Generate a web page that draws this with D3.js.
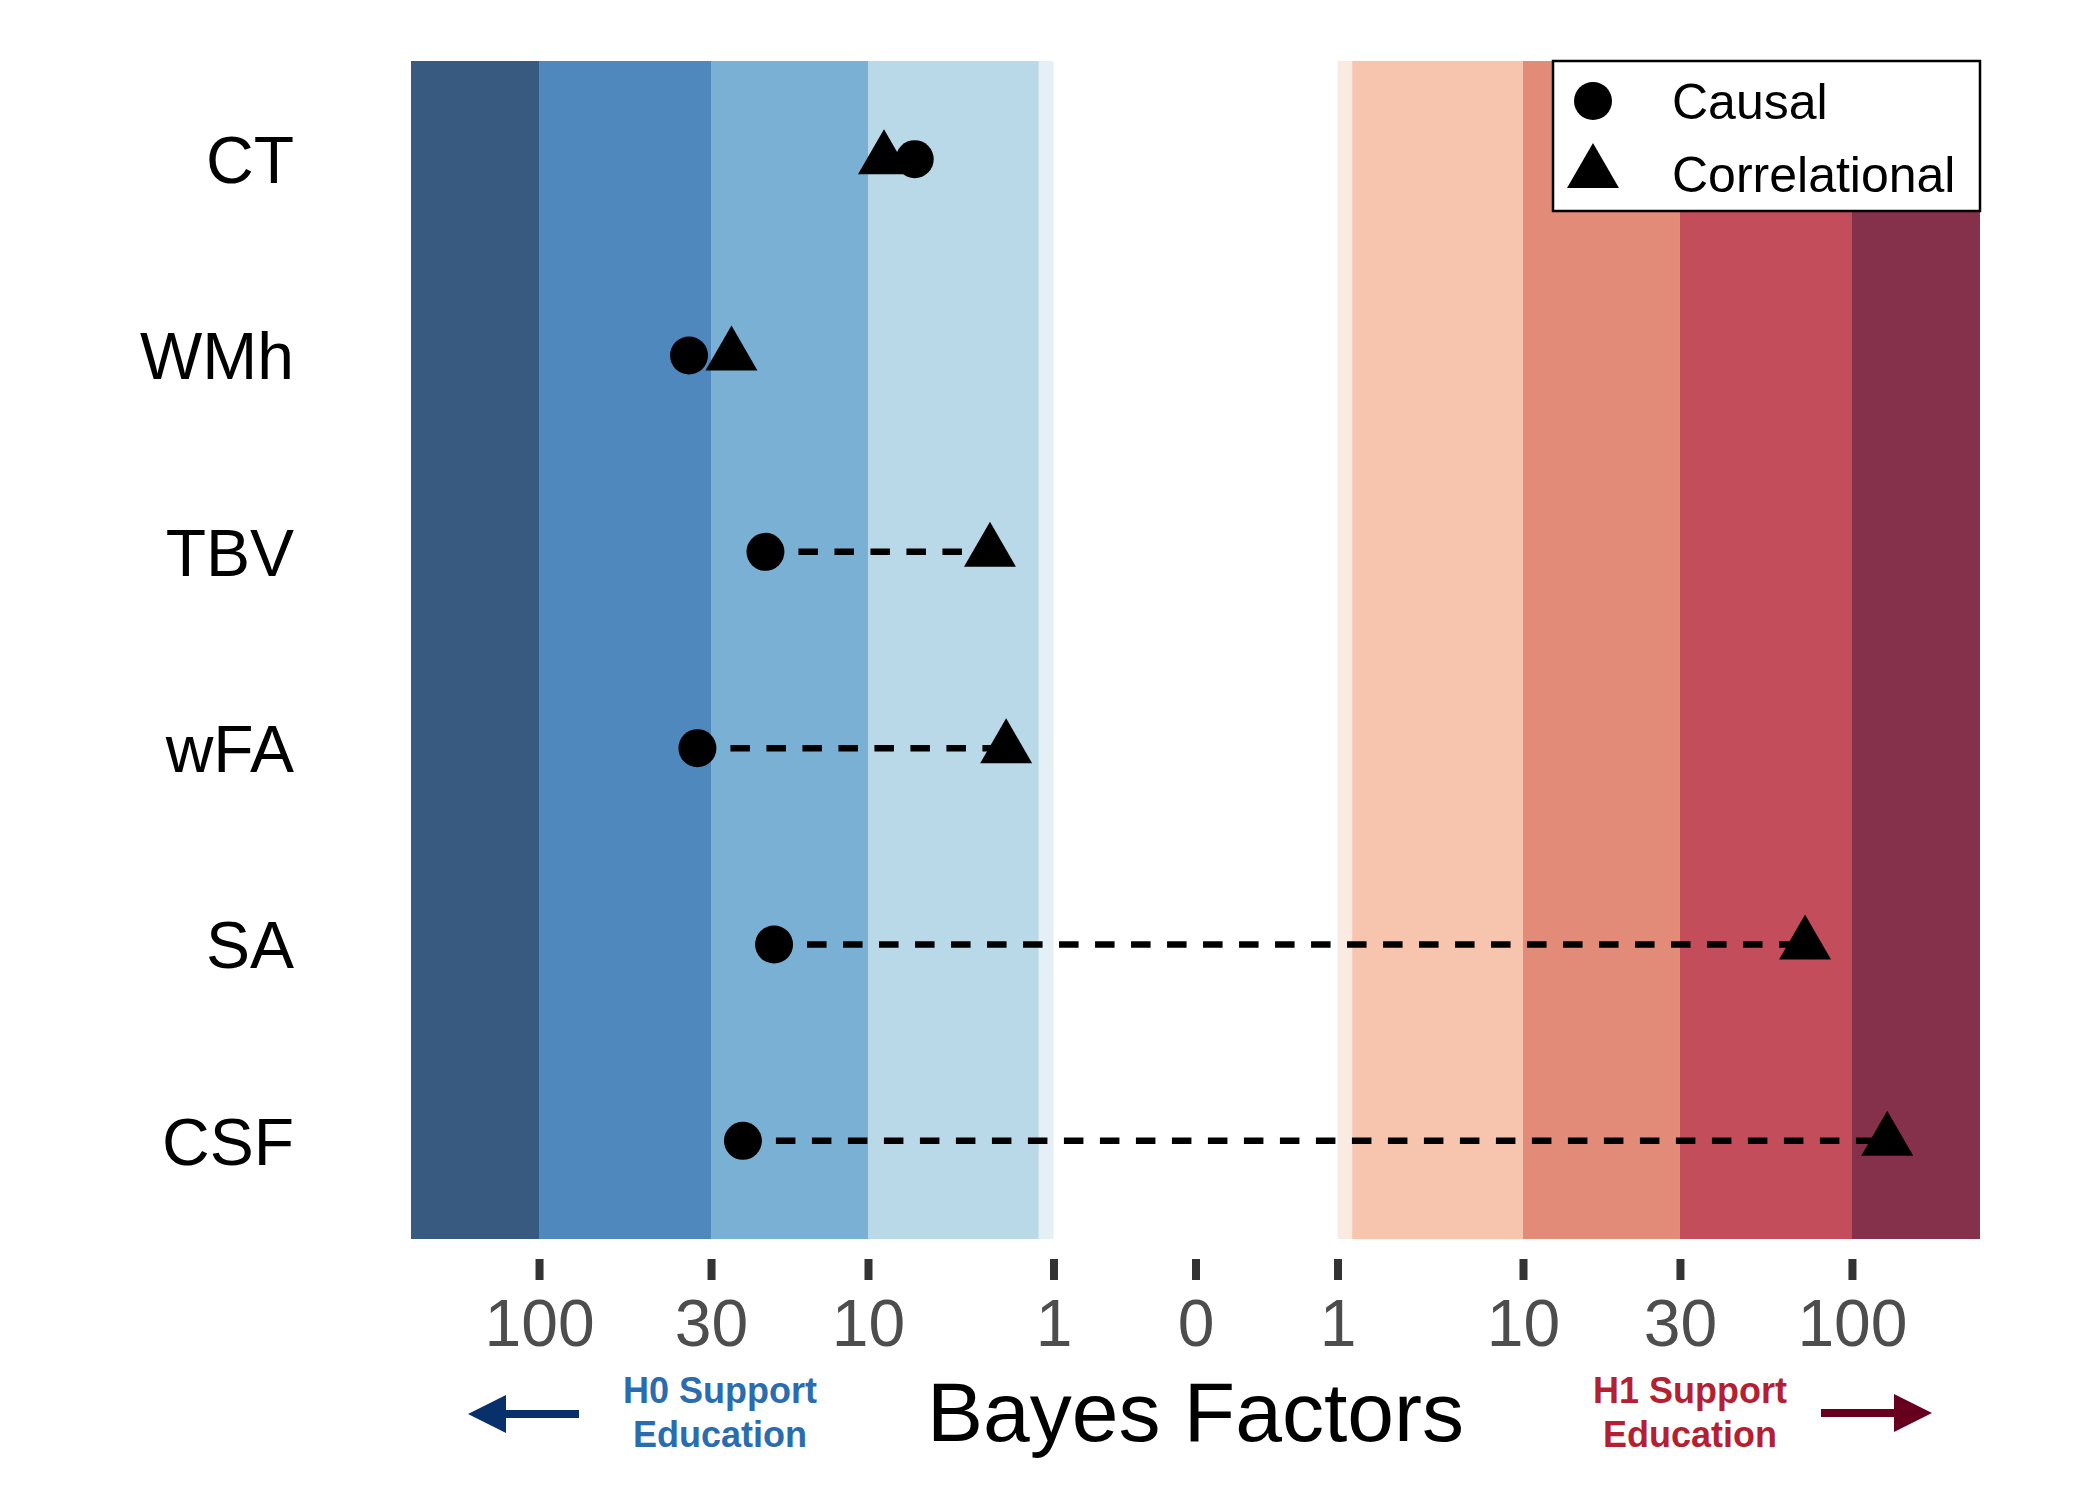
<!DOCTYPE html>
<html>
<head>
<meta charset="utf-8">
<script src="https://cdn.jsdelivr.net/npm/d3@7"></script>
<style>
  body { margin: 0; background: #fff; }
  svg { display: block; font-family: "Liberation Sans", Arial, Helvetica, sans-serif; }
</style>
</head>
<body>
<div id="chart"></div>
<script>
// measures (top to bottom)
var measures = ["CT", "WMh", "TBV", "wFA", "SA", "CSF"];
// Bayes factors, negative = support for H0, positive = support for H1
var causalBF = [-5.6, -35, -20.5, -33, -19.3, -24];
var correlationalBF = [-8.2, -26, -2.2, -1.8, 72, 128];

var tickValues = [-100, -30, -10, -1, 0, 1, 10, 30, 100];
var tickLabels = ["100", "30", "10", "1", "0", "1", "10", "30", "100"];

// evidence bands
var bandEdges = [-245, -100, -30, -10, -1.2, -1, 1, 1.2, 10, 30, 100, 245];
var bandColors = ["#385a80", "#4f88bd", "#7ab0d4", "#b9d8e8", "#e5eff6", null,
                  "#faeae2", "#f7c5ad", "#e28b79", "#c44d5b", "#86314b"];

var legendLabels = ["Causal", "Correlational"];

var W = 2100, H = 1500;
var plot = {left: 411, right: 1980, top: 61, bottom: 1239};

var svg = d3.select("#chart").append("svg")
  .attr("width", W)
  .attr("height", H);

// signed log transform with a gap around zero
function toU(bf) {
  if (bf === 0) return 0;
  return Math.sign(bf) * (1 + Math.log10(Math.abs(bf)));
}
var uMax = toU(245);
var x = d3.scaleLinear()
  .domain([-uMax, -2, -1, 0, 1, 2, uMax])
  .range([plot.left, 868, 1053.5, 1195.5, 1337.5, 1523, plot.right]);
var xs = function(bf) { return x(toU(bf)); };

var y = d3.scaleBand()
  .domain(measures)
  .range([plot.top, plot.bottom])
  .padding(0);
var yc = function(m) { return y(m) + y.bandwidth() / 2; };

// background bands
var bands = [];
for (var i = 0; i < bandEdges.length - 1; i++) {
  if (bandColors[i]) bands.push({lo: bandEdges[i], hi: bandEdges[i + 1], color: bandColors[i]});
}
svg.append("g").selectAll("rect")
  .data(bands).enter()
  .append("rect")
  .attr("x", d => xs(d.lo))
  .attr("width", d => xs(d.hi) - xs(d.lo))
  .attr("y", plot.top)
  .attr("height", plot.bottom - plot.top)
  .style("fill", d => d.color);

// y labels
svg.append("g").selectAll("text")
  .data(measures).enter()
  .append("text")
  .attr("x", 294)
  .attr("y", d => yc(d))
  .attr("dy", "0.36em")
  .style("text-anchor", "end")
  .style("font-size", "66px")
  .style("fill", "#000")
  .text(d => d);

var rows = measures.map(function(m, i) {
  return {name: m, causal: causalBF[i], corr: correlationalBF[i]};
});

// dashed connectors
svg.append("g").selectAll("line")
  .data(rows).enter()
  .append("line")
  .attr("x1", d => xs(d.causal))
  .attr("x2", d => xs(d.corr))
  .attr("y1", d => yc(d.name))
  .attr("y2", d => yc(d.name))
  .style("stroke", "#000")
  .style("stroke-width", 6.5)
  .style("stroke-dasharray", "19.5,16.5")
  .style("stroke-dashoffset", 3);

var triangle = d3.symbol().type(d3.symbolTriangle).size(1169);

// causal points
svg.append("g").selectAll("circle")
  .data(rows).enter()
  .append("circle")
  .attr("cx", d => xs(d.causal))
  .attr("cy", d => yc(d.name))
  .attr("r", 19)
  .style("fill", "#000");

// correlational points
svg.append("g").selectAll("path")
  .data(rows).enter()
  .append("path")
  .attr("d", triangle)
  .attr("transform", d => "translate(" + xs(d.corr) + "," + yc(d.name) + ")")
  .style("fill", "#000");

// x axis
var axis = svg.append("g")
  .attr("transform", "translate(0,1259)")
  .call(d3.axisBottom(x)
    .tickValues(tickValues.map(toU))
    .tickFormat(function(d, i) { return tickLabels[i]; })
    .tickSize(21)
    .tickSizeOuter(0));
axis.select(".domain").remove();
axis.selectAll(".tick line")
  .style("stroke", "#333333")
  .style("stroke-width", 8);
axis.selectAll(".tick text")
  .attr("y", 87)
  .attr("dy", 0)
  .style("font-size", "66px")
  .style("font-family", "'Liberation Sans', Arial, Helvetica, sans-serif")
  .style("fill", "#4d4d4d");

// axis title
svg.append("text")
  .attr("x", 1195.5)
  .attr("y", 1441)
  .style("text-anchor", "middle")
  .style("font-size", "84px")
  .style("fill", "#000")
  .text("Bayes Factors");

// direction notes
function note(cx, color, lines) {
  var t = svg.append("text")
    .attr("x", cx)
    .attr("y", 1403)
    .style("text-anchor", "middle")
    .style("font-size", "36px")
    .style("font-weight", "bold")
    .style("fill", color);
  lines.forEach(function(s, i) {
    t.append("tspan").attr("x", cx).attr("dy", i === 0 ? 0 : 44).text(s);
  });
}
note(720, "#2a6cb0", ["H0 Support", "Education"]);
note(1690, "#b51f32", ["H1 Support", "Education"]);

// arrows
function arrow(x0, x1, yy, color) {
  var dir = Math.sign(x1 - x0);
  var headLen = 38, headHalf = 19;
  svg.append("line")
    .attr("x1", x0).attr("x2", x1 - dir * headLen + dir * 2)
    .attr("y1", yy).attr("y2", yy)
    .style("stroke", color)
    .style("stroke-width", 8);
  svg.append("path")
    .attr("d", d3.line()([[x1, yy], [x1 - dir * headLen, yy - headHalf], [x1 - dir * headLen, yy + headHalf]]) + "Z")
    .style("fill", color);
}
arrow(579, 468, 1414, "#08306b");
arrow(1821, 1932, 1413, "#67001f");

// legend
var lg = svg.append("g").attr("transform", "translate(1553,61)");
lg.append("rect")
  .attr("width", 427)
  .attr("height", 150)
  .style("fill", "#fff")
  .style("stroke", "#000")
  .style("stroke-width", 2.5);
lg.append("circle")
  .attr("cx", 40).attr("cy", 40).attr("r", 19)
  .style("fill", "#000");
lg.append("path")
  .attr("d", triangle)
  .attr("transform", "translate(40,112)")
  .style("fill", "#000");
lg.selectAll("text.lab")
  .data(legendLabels).enter()
  .append("text")
  .attr("class", "lab")
  .attr("x", 119)
  .attr("y", (d, i) => 58 + i * 73)
  .style("font-size", "50px")
  .style("fill", "#000")
  .text(d => d);
</script>
</body>
</html>
